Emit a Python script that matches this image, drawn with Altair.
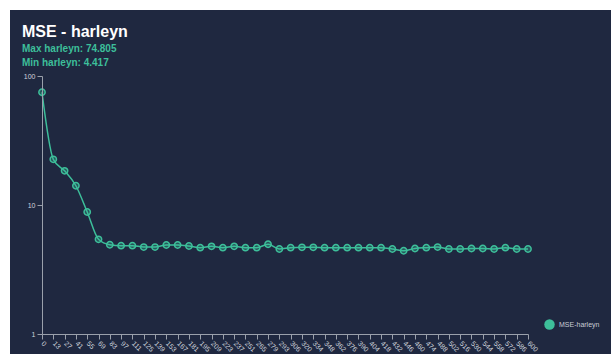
import altair as alt
import pandas as pd

steps = [0, 13, 27, 41, 55, 69, 83, 97, 111, 125, 139, 153, 167, 181, 195, 209,
         223, 237, 251, 265, 279, 293, 306, 320, 334, 348, 362, 376, 390, 404,
         418, 432, 446, 460, 474, 488, 502, 516, 530, 544, 558, 572, 586, 600]
mse = [74.805, 22.6, 18.4, 14.1, 8.83, 5.42, 4.92, 4.84, 4.84, 4.72, 4.72,
       4.90, 4.90, 4.81, 4.67, 4.78, 4.67, 4.78, 4.67, 4.67, 4.96, 4.56,
       4.67, 4.70, 4.70, 4.67, 4.67, 4.67, 4.67, 4.67, 4.67, 4.56, 4.417,
       4.60, 4.67, 4.72, 4.56, 4.56, 4.60, 4.60, 4.56, 4.67, 4.56, 4.56]
series = "MSE-harleyn"
title_text = "MSE - harleyn"
max_text = "Max harleyn: 74.805"
min_text = "Min harleyn: 4.417"

labels = [str(s) for s in steps]
df = pd.DataFrame({"step": labels, "mse": mse, "series": series})

W, H = 486, 258
BG = "#1f2840"
TEAL = "#3dbf9a"
FONT = "Liberation Sans"
AX = "#9aa0ab"

xenc = alt.X("step:O", sort=labels, title=None,
             scale=alt.Scale(type="point", padding=0),
             axis=alt.Axis(labelAngle=45, labelAlign="left", labelBaseline="middle",
                           labelFontSize=7, labelColor="#d0d4dc", labelPadding=3,
                           tickSize=5, tickColor=AX, domainColor=AX, zindex=2,
                           labelOverlap=False, grid=False))
yenc = alt.Y("mse:Q", title=None,
             scale=alt.Scale(type="log", domain=[1, 100]),
             axis=alt.Axis(values=[1, 10, 100], format="d", labelFontSize=7,
                           labelColor="#d0d4dc", tickSize=5, tickColor=AX, zindex=2,
                           domainColor=AX, grid=False))

bg = alt.Chart(pd.DataFrame({"a": [0]})).mark_rect(color=BG, clip=False).encode(
    x=alt.value(-32), x2=alt.value(W + 120), y=alt.value(-66), y2=alt.value(H + 40))


def text_layer(txt, y, size, color):
    return alt.Chart(pd.DataFrame({"t": [txt]})).mark_text(
        align="left", baseline="alphabetic", font=FONT, fontSize=size,
        fontWeight="bold", color=color, clip=False).encode(
        text="t:N", x=alt.value(-20), y=alt.value(y))


ttl = text_layer(title_text, -39, 16, "white")
sub1 = text_layer(max_text, -24, 10, TEAL)
sub2 = text_layer(min_text, -10, 10, TEAL)

line = alt.Chart(df).mark_line(interpolate="monotone", color=TEAL, strokeWidth=1.5).encode(
    x=xenc, y=yenc)

pts = alt.Chart(df).mark_point(shape="circle", filled=False, stroke=TEAL, strokeWidth=1.5,
                               size=40, fillOpacity=0.3, opacity=1).encode(
    x=xenc, y=yenc,
    fill=alt.Fill("series:N", scale=alt.Scale(range=[TEAL]),
                  legend=alt.Legend(title=None, orient="none", legendX=502, legendY=243,
                                    symbolType="circle", symbolSize=110,
                                    symbolOpacity=1, symbolStrokeWidth=0,
                                    labelColor="#c8ccd4", labelFontSize=7,
                                    labelFont=FONT)))

chart = alt.layer(bg, ttl, sub1, sub2, line, pts).properties(
    width=W, height=H,
    autosize=alt.AutoSizeParams(type="none"),
    padding={"left": 42, "top": 76, "right": 83, "bottom": 20},
).configure(background="white", font=FONT).configure_view(stroke=None)

chart.save("out.html", embed_options={"renderer": "svg", "actions": False})
